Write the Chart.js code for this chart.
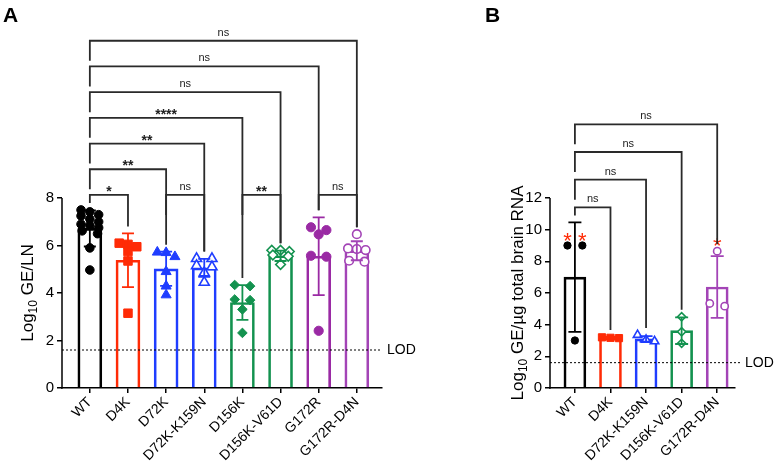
<!DOCTYPE html>
<html><head><meta charset="utf-8">
<script src="https://cdn.jsdelivr.net/npm/chart.js@4/dist/chart.umd.min.js"></script>
<style>
body{margin:0;background:#fff;width:776px;height:466px;position:relative;overflow:hidden}
#ca{position:absolute;left:0;top:0}
#cb{position:absolute;left:470px;top:0}
</style></head><body>
<canvas id="ca" width="440" height="466"></canvas>
<canvas id="cb" width="306" height="466"></canvas>
<script>
// ---------- Panel A data (Log10 GE/LN) ----------
const groupsA = ['WT','D4K','D72K','D72K-K159N','D156K','D156K-V61D','G172R','G172R-D4N'];
const meanA = [6.72, 5.38, 5.02, 5.06, 3.60, 5.57, 5.55, 5.78];
const sdA   = [0.76, 1.13, 0.72, 0.38, 0.73, 0.22, 1.64, 0.40];
const lnWT        = [7.5, 7.42, 7.3, 7.25, 7.12, 7.0, 6.9, 6.85, 6.75, 6.62, 6.5, 5.9, 4.97];
const lnD4K       = [6.1, 6.05, 5.95, 5.75, 5.35, 3.15];
const lnD72K      = [5.72, 5.7, 5.53, 4.9, 4.29, 3.92];
const lnD72K_K159N= [5.45, 5.45, 5.15, 5.1, 4.85, 4.45];
const lnD156K     = [4.34, 4.29, 3.73, 3.7, 3.31, 2.32];
const lnD156K_V61D= [5.8, 5.8, 5.75, 5.6, 5.55, 5.2];
const lnG172R     = [6.77, 6.65, 6.47, 5.57, 5.53, 2.41];
const lnG172R_D4N = [6.48, 5.88, 5.85, 5.81, 5.36, 5.32];
const ticksA = [0, 2, 4, 6, 8];
const compsA = [
  ['WT','D4K','*'], ['D72K','D72K-K159N','ns'], ['D156K','D156K-V61D','**'], ['G172R','G172R-D4N','ns'],
  ['WT','D72K','**'], ['WT','D72K-K159N','**'], ['WT','D156K','****'], ['WT','D156K-V61D','ns'],
  ['WT','G172R','ns'], ['WT','G172R-D4N','ns']
];
const lodA = 1.6;

// ---------- Panel B data (Log10 GE/µg total brain RNA) ----------
const groupsB = ['WT','D4K','D72K-K159N','D156K-V61D','G172R-D4N'];
const meanB = [7.0, 3.17, 3.1, 3.62, 6.38];
const sdB   = [3.46, 0.05, 0.18, 0.84, 1.95];
const brWT         = [9.0, 9.0, 3.0];
const brD4K        = [3.2, 3.17, 3.15];
const brD72K_K159N = [3.35, 3.05, 2.95];
const brD156K_V61D = [4.5, 3.55, 2.82];
const brG172R_D4N  = [8.64, 5.34, 5.17];
const ticksB = [0, 2, 4, 6, 8, 10, 12];
const compsB = [['WT','D4K','ns'], ['WT','D72K-K159N','ns'], ['WT','D156K-V61D','ns'], ['WT','G172R-D4N','ns']];
const starredB = [['WT',0], ['WT',1], ['G172R-D4N',0]];
const lodB = 1.6;

// ---------- styles ----------
const FONT = '"Liberation Sans", Arial, Helvetica, sans-serif';
const STY = {
  'WT':         {color:'#000000', shape:'circle',  fill:true,  r:4.3},
  'D4K':        {color:'#ff2b06', shape:'rect',    fill:true,  r:6.0},
  'D72K':       {color:'#1f3dff', shape:'triangle',fill:true,  r:5.8},
  'D72K-K159N': {color:'#1f3dff', shape:'triangle',fill:false, r:5.8},
  'D156K':      {color:'#13924f', shape:'rectRot', fill:true,  r:4.8},
  'D156K-V61D': {color:'#13924f', shape:'rectRot', fill:false, r:4.8},
  'G172R':      {color:'#9a2aa4', shape:'circle',  fill:true,  r:4.6},
  'G172R-D4N':  {color:'#a344b6', shape:'circle',  fill:false, r:4.3}
};

function build(canvasId, o) {
  const datasets = [{
    type:'bar', order:1,
    data:o.groups.map((g,i)=>({x:i, y:o.means[i]})),
    backgroundColor:'rgba(255,255,255,0)',
    borderColor:o.groups.map(g=>STY[g].color),
    borderWidth:2, borderSkipped:'start', barThickness:o.barW
  }];
  o.groups.forEach((g,i)=>{
    const s = STY[g];
    datasets.push({
      type:'scatter', order:0,
      data:o.points[i].map(v=>({x:i, y:v})),
      pointStyle:s.shape, pointRadius:s.r*o.mk,
      pointBackgroundColor:s.fill ? s.color : '#ffffff',
      pointBorderColor:s.color, pointBorderWidth:s.fill ? 1 : 1.6
    });
  });

  const deco = {
    id:'deco',
    afterDatasetsDraw(chart) {
      const ctx = chart.ctx, xs = chart.scales.x, ys = chart.scales.y, ca = chart.chartArea;
      const X = i => xs.getPixelForValue(i), Y = v => ys.getPixelForValue(v);
      ctx.save();
      // error bars
      o.groups.forEach((g,i)=>{
        const c = STY[g].color, x = X(i), t = Y(o.means[i]+o.sds[i]), b = Y(o.means[i]-o.sds[i]);
        ctx.strokeStyle = c; ctx.lineWidth = 1.8; ctx.beginPath();
        ctx.moveTo(x, t); ctx.lineTo(x, b);
        ctx.moveTo(x-o.cap, t); ctx.lineTo(x+o.cap, t);
        ctx.moveTo(x-o.cap, b); ctx.lineTo(x+o.cap, b);
        ctx.stroke();
      });
      // red markers above flagged points
      (o.starred||[]).forEach(([g,k])=>{
        const i = o.groups.indexOf(g);
        const el = chart.getDatasetMeta(i+1).data[k];
        ctx.fillStyle = '#ff2b06'; ctx.font = '22px ' + FONT; ctx.textAlign='center'; ctx.textBaseline='alphabetic';
        ctx.fillText('*', el.x, el.y + 2);
      });
      // LOD line
      ctx.strokeStyle = '#000'; ctx.lineWidth = 1; ctx.setLineDash([2,2]);
      ctx.beginPath(); ctx.moveTo(ca.left, Y(o.lod)); ctx.lineTo(ca.right + o.lodExt, Y(o.lod)); ctx.stroke();
      ctx.setLineDash([]);
      ctx.fillStyle = '#000'; ctx.font = '14px ' + FONT; ctx.textAlign = 'left'; ctx.textBaseline = 'middle';
      ctx.fillText('LOD', ca.right + o.lodExt + 5, Y(o.lod));
      // y spine (only up to last tick)
      ctx.strokeStyle = '#000'; ctx.lineWidth = 1.5; ctx.beginPath();
      ctx.moveTo(ca.left, Y(0) + 0.75); ctx.lineTo(ca.left, Y(o.ticks[o.ticks.length-1])); ctx.stroke();
      // brackets
      const topPx = o.groups.map((g,i)=>Math.min(Y(Math.max(...o.points[i])), Y(o.means[i]+o.sds[i])));
      const base = Math.min(...topPx) - 15;
      const comps = o.comps.map(c=>({a:o.groups.indexOf(c[0]), b:o.groups.indexOf(c[1]), t:c[2]}));
      comps.sort((p,q)=>(p.b-p.a)-(q.b-q.a));
      comps.forEach(c=>{
        let t = 0;
        comps.forEach(d=>{ if (d!==c && d.tier!==undefined && d.a>=c.a && d.b<=c.b) t = Math.max(t, d.tier+1); });
        c.tier = t;
      });
      ctx.strokeStyle = '#2a2a2a'; ctx.lineWidth = 1.8; ctx.lineJoin = 'miter';
      comps.forEach(c=>{
        const by = base - c.tier*o.step, xa = X(c.a), xb = X(c.b);
        const le = Math.min(by + 20, topPx[c.a] - 7), re = topPx[c.b] - 7;
        ctx.beginPath(); ctx.moveTo(xa, le); ctx.lineTo(xa, by); ctx.lineTo(xb, by); ctx.lineTo(xb, re); ctx.stroke();
        ctx.fillStyle = '#222'; ctx.textAlign = 'center'; ctx.textBaseline = 'alphabetic';
        if (c.t === 'ns') { ctx.font = '11px ' + FONT; ctx.fillText('ns', (xa+xb)/2, by - 5); }
        else { ctx.font = 'bold 14px ' + FONT; ctx.fillText(c.t, (xa+xb)/2, by + 1); }
      });
      // axis title with subscript
      const parts = o.title;
      ctx.fillStyle = '#000'; ctx.textBaseline = 'alphabetic'; ctx.textAlign = 'left';
      let w = 0;
      parts.forEach(p=>{ ctx.font = (p.sub ? '12px ' : '17px ') + FONT; w += ctx.measureText(p.t).width; });
      const cy = (Y(0) + Y(o.ticks[o.ticks.length-1]))/2;
      ctx.translate(o.titleX, cy); ctx.rotate(-Math.PI/2);
      let px = -w/2;
      parts.forEach(p=>{ ctx.font = (p.sub ? '12px ' : '17px ') + FONT; ctx.fillText(p.t, px, p.sub ? 10 : 6); px += ctx.measureText(p.t).width; });
      ctx.setTransform(1,0,0,1,0,0);
      // panel letter
      ctx.font = 'bold 21px ' + FONT; ctx.fillStyle = '#000'; ctx.textAlign = 'left';
      ctx.fillText(o.letter, o.letterX, 22);
      ctx.restore();
    }
  };

  const chart = new Chart(document.getElementById(canvasId), {
    type:'bar',
    data:{datasets},
    options:{
      responsive:false, animation:false, events:[],
      layout:{padding:{left:0, right:o.padR, top:o.padT, bottom:0}},
      plugins:{legend:{display:false}, tooltip:{enabled:false}},
      scales:{
        x:{type:'linear', min:o.xMin, max:o.xMax, offset:false,
          afterBuildTicks:s=>{ s.ticks = o.groups.map((g,i)=>({value:i})); },
          afterFit:s=>{ s.height = o.xH; },
          ticks:{autoSkip:false, minRotation:45, maxRotation:45, color:'#000', font:{family:FONT, size:14}, padding:1,
                 callback:v=>o.groups[v]},
          grid:{display:true, offset:false, drawOnChartArea:false, drawTicks:true, tickLength:5, color:'#000', lineWidth:1.5},
          border:{display:true, color:'#000', width:1.5}},
        y:{min:0, max:o.yMax,
          afterBuildTicks:s=>{ s.ticks = o.ticks.map(v=>({value:v})); },
          afterFit:s=>{ s.width = o.left; },
          ticks:{color:'#000', font:{family:FONT, size:15}, padding:3},
          grid:{display:true, drawOnChartArea:false, drawTicks:true, tickLength:5, color:'#000', lineWidth:1.5},
          border:{display:false}}
      }
    },
    plugins:[deco]
  });

  // spread overlapping points sideways (rows of near-equal values, centred; pairs sit wider apart)
  const xs = chart.scales.x, ys = chart.scales.y;
  const ppu = xs.getPixelForValue(1) - xs.getPixelForValue(0);
  o.points.forEach((vals,i)=>{
    const order = vals.map((v,k)=>k).sort((a,b)=>vals[b]-vals[a]);
    const rows = [];
    order.forEach(k=>{
      const py = ys.getPixelForValue(vals[k]);
      const last = rows[rows.length-1];
      if (last && py - last.py0 < o.rowGap && last.items.length < 3) last.items.push(k);
      else rows.push({py0:py, items:[k]});
    });
    const ds = chart.data.datasets[i+1];
    rows.forEach(r=>{
      const m = r.items.length, sp = m === 2 ? o.spread*1.75 : o.spread;
      r.items.forEach((k,j)=>{ ds.data[k].x = i + (j-(m-1)/2)*sp/ppu; });
    });
  });
  chart.update('none');
  return chart;
}

build('ca', {
  groups:groupsA, means:meanA, sds:sdA,
  points:[lnWT, lnD4K, lnD72K, lnD72K_K159N, lnD156K, lnD156K_V61D, lnG172R, lnG172R_D4N],
  ticks:ticksA, comps:compsA, lod:lodA,
  xMin:-0.73, xMax:7.66, yMax:15.5, padT:20, padR:58, left:62, xH:78,
  barW:24, cap:6, mk:1, rowGap:7, spread:8.8, step:25.7, lodExt:0,
  titleX:27, letter:'A', letterX:3,
  title:[{t:'Log'},{t:'10',sub:true},{t:' GE/LN'}]
});
build('cb', {
  groups:groupsB, means:meanB, sds:sdB,
  points:[brWT, brD4K, brD72K_K159N, brD156K_V61D, brG172R_D4N],
  ticks:ticksB, comps:compsB, lod:lodB, starred:starredB,
  xMin:-0.70, xMax:4.5, yMax:18, padT:103, padR:41, left:80, xH:78,
  barW:22, cap:6.5, mk:0.85, rowGap:7, spread:8.5, step:27.7, lodExt:5,
  titleX:47, letter:'B', letterX:15,
  title:[{t:'Log'},{t:'10',sub:true},{t:' GE/µg total brain RNA'}]
});
</script>
</body></html>
